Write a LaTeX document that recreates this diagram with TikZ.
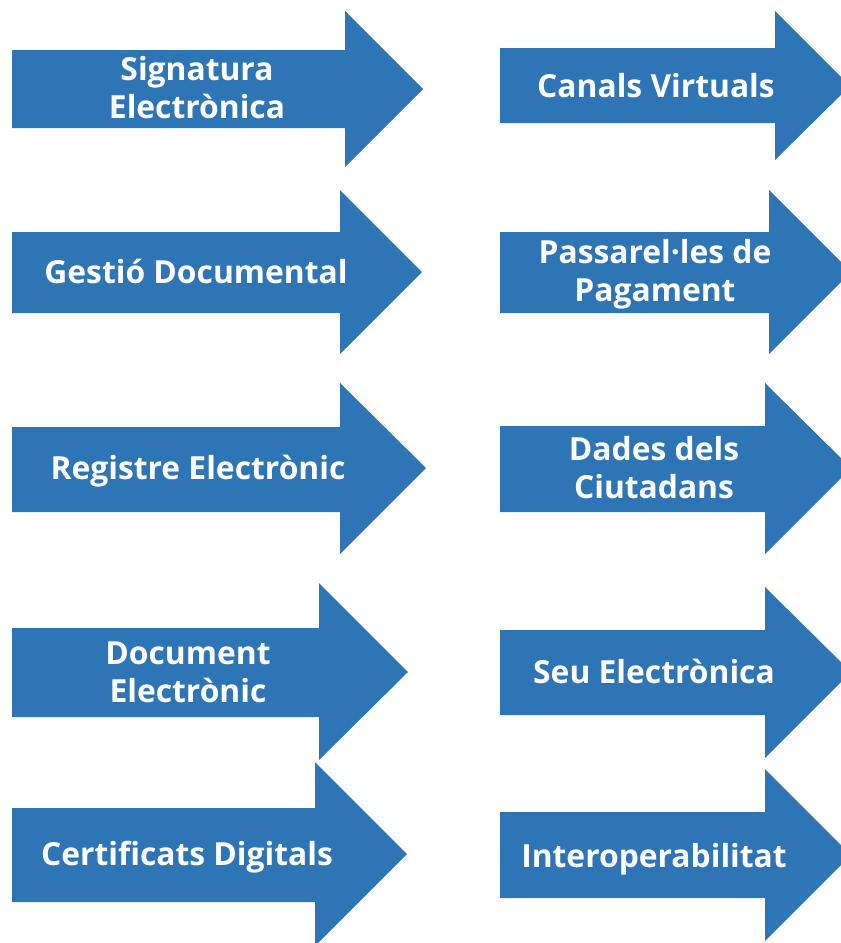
\documentclass[tikz,border=0pt]{standalone}
\usepackage{fontspec}
\setmainfont{Open Sans}
\definecolor{arrowblue}{RGB}{46,117,182}
\tikzset{
	bigarrow/.style={fill=arrowblue},
	arrowtext/.style={text=white,font=\bfseries\fontsize{31.8}{38}\selectfont,align=center,inner sep=0}
}
\begin{document}
\begin{tikzpicture}[x=1pt,y=-1pt]
	\useasboundingbox (0,0) rectangle (841,943);
	\clip (0,0) rectangle (841,943);
	\fill[bigarrow] (12,50) -- (345,50) -- (345,11) -- (423,89) -- (345,167) -- (345,128) -- (12,128) -- cycle;
	\fill[bigarrow] (500,48) -- (775,48) -- (775,11) -- (850,86) -- (775,160) -- (775,123) -- (500,123) -- cycle;
	\fill[bigarrow] (12,232) -- (340,232) -- (340,190) -- (422,272) -- (340,354) -- (340,313) -- (12,313) -- cycle;
	\fill[bigarrow] (500,232) -- (769,232) -- (769,190) -- (851,272) -- (769,354) -- (769,313) -- (500,313) -- cycle;
	\fill[bigarrow] (12,427) -- (340,427) -- (340,383) -- (426,468) -- (340,554) -- (340,512) -- (12,512) -- cycle;
	\fill[bigarrow] (500,426) -- (765,426) -- (765,383) -- (851,468) -- (765,554) -- (765,512) -- (500,512) -- cycle;
	\fill[bigarrow] (12,628) -- (319,628) -- (319,583) -- (408,672) -- (319,760) -- (319,717) -- (12,717) -- cycle;
	\fill[bigarrow] (500,630) -- (765,630) -- (765,587) -- (851,672) -- (765,758) -- (765,715) -- (500,715) -- cycle;
	\fill[bigarrow] (12,808) -- (315,808) -- (315,762) -- (407,854) -- (315,946) -- (315,902) -- (12,902) -- cycle;
	\fill[bigarrow] (500,812) -- (765,812) -- (765,769) -- (851,855) -- (765,941) -- (765,898) -- (500,898) -- cycle;
	\node[arrowtext] (signatura) at (197,88) {Signatura\\Electrònica};
	\node[arrowtext,anchor=base] (canals) at (656,97) {Canals Virtuals};
	\node[arrowtext,anchor=base] (gestio) at (196,283) {Gestió Documental};
	\node[arrowtext] (passarel) at (655,274) {Passarel·les de\\Pagament};
	\node[arrowtext,anchor=base] (registre) at (198,479) {Registre Electrònic};
	\node[arrowtext] (dades) at (654,468) {Dades dels\\Ciutadans};
	\node[arrowtext] (document) at (188,672) {Document\\Electrònic};
	\node[arrowtext,anchor=base] (seu) at (654,683) {Seu Electrònica};
	\node[arrowtext,anchor=base] (certificats) at (187,865) {Certificats Digitals};
	\node[arrowtext,anchor=base] (interop) at (654,867) {Interoperabilitat};
\end{tikzpicture}
\end{document}
